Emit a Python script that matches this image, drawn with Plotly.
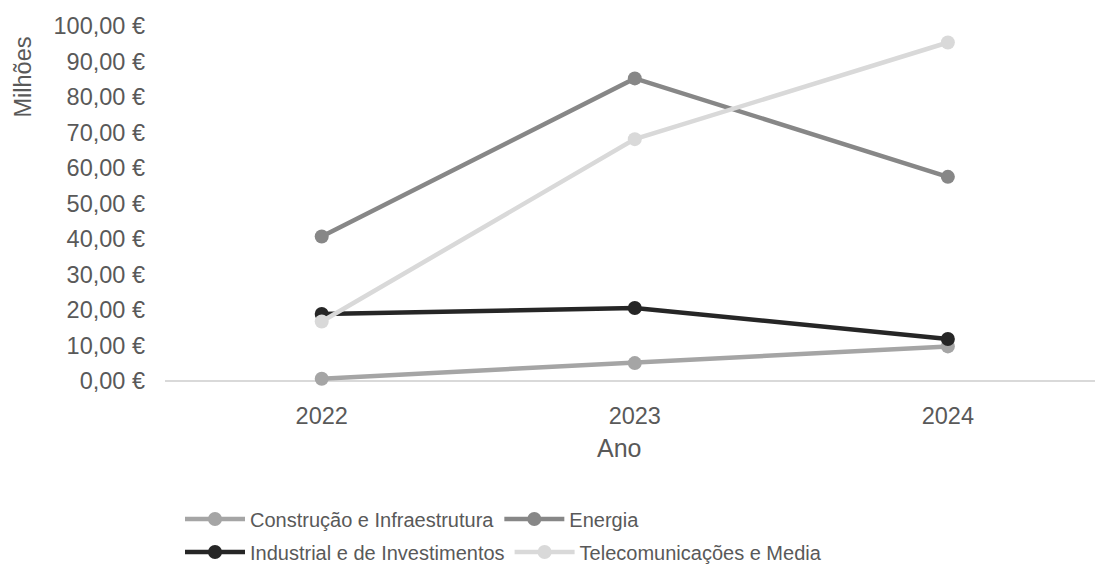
import plotly.graph_objects as go

# Anos e valores (milhões de euros) por setor
anos = [2022, 2023, 2024]
construcao = [0.7, 5.1, 9.8]
energia = [40.7, 85.2, 57.5]
industrial = [18.9, 20.6, 11.9]
telecom = [16.8, 68.1, 95.3]

y_ticks = [0, 10, 20, 30, 40, 50, 60, 70, 80, 90, 100]
y_tick_labels = ["0,00 €", "10,00 €", "20,00 €", "30,00 €", "40,00 €", "50,00 €",
                 "60,00 €", "70,00 €", "80,00 €", "90,00 €", "100,00 €"]
x_tick_labels = ["2022", "2023", "2024"]

W, H = 1095, 570
FONT = "Liberation Sans, Arial, sans-serif"
TXT = "#595959"

series = [
    ("Construção e Infraestrutura", construcao, "#a5a5a5", "legend"),
    ("Energia", energia, "#878787", "legend"),
    ("Industrial e de Investimentos", industrial, "#262626", "legend2"),
    ("Telecomunicações e Media", telecom, "#d9d9d9", "legend2"),
]

fig = go.Figure()
for name, vals, color, lg in series:
    fig.add_trace(go.Scatter(
        x=anos, y=vals, name=name, mode="lines+markers",
        line=dict(color=color, width=4.5),
        marker=dict(color=color, size=14),
        legend=lg,
    ))

legend_common = dict(
    orientation="h", xref="container", yref="container",
    xanchor="left", yanchor="middle",
    font=dict(family=FONT, size=20, color=TXT),
    bgcolor="rgba(0,0,0,0)", itemwidth=60, tracegroupgap=0,
)

fig.update_layout(
    width=W, height=H,
    margin=dict(l=165, r=0, t=8, b=171),
    plot_bgcolor="white", paper_bgcolor="white",
    font=dict(family=FONT, size=23, color=TXT),
    showlegend=True,
    xaxis=dict(
        range=[2021.4994, 2024.47], tickvals=anos, ticktext=x_tick_labels,
        showgrid=False, zeroline=False, showline=False, ticks="",
        tickfont=dict(family=FONT, size=23.5, color=TXT),
    ),
    yaxis=dict(
        range=[-5, 105], tickvals=y_ticks, ticktext=y_tick_labels,
        showgrid=False, zeroline=True, zerolinecolor="#d9d9d9", zerolinewidth=1.5,
        showline=False, ticks="", ticklabelstandoff=19,
        tickfont=dict(family=FONT, size=23.5, color=TXT),
    ),
    legend=dict(x=180 / W, y=1 - 519 / H, **legend_common),
    legend2=dict(x=180 / W, y=1 - 552 / H, **legend_common),
    annotations=[
        dict(text="Ano", xref="paper", yref="paper", x=(619 - 165) / 930,
             y=(399 - 448) / 391, xanchor="center", yanchor="middle",
             showarrow=False, font=dict(family=FONT, size=25, color=TXT)),
        dict(text="Milhões", xref="paper", yref="paper", x=(22.5 - 165) / 930,
             y=(399 - 77) / 391, xanchor="center", yanchor="middle", textangle=-90,
             showarrow=False, font=dict(family=FONT, size=23.5, color=TXT)),
    ],
)

fig.write_html("out.html")
